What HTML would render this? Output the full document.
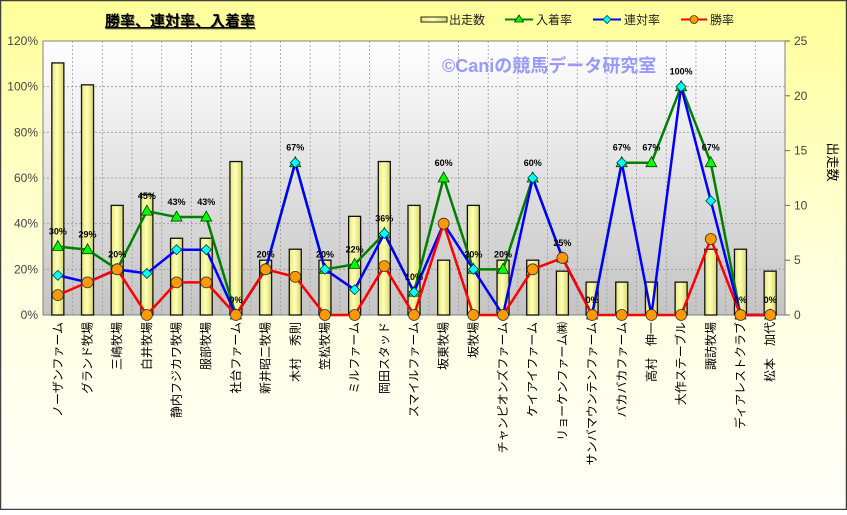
<!DOCTYPE html>
<html><head><meta charset="utf-8"><style>
html,body{margin:0;padding:0;}
body{width:847px;height:510px;overflow:hidden;font-family:"Liberation Sans","Noto Sans CJK JP",sans-serif;}
</style></head><body>
<svg id="s" width="847" height="510" xmlns="http://www.w3.org/2000/svg" font-family="Liberation Sans, Noto Sans CJK JP, sans-serif">
<defs>
<linearGradient id="bg" x1="0" y1="0" x2="0" y2="1"><stop offset="0" stop-color="#ffff99"/><stop offset="0.55" stop-color="#ffffe0"/><stop offset="1" stop-color="#fffffa"/></linearGradient>
<linearGradient id="pa" x1="0" y1="0" x2="0" y2="1"><stop offset="0" stop-color="#ffffff"/><stop offset="1" stop-color="#c4c4c4"/></linearGradient>
<linearGradient id="bar" x1="0" y1="0" x2="1" y2="0"><stop offset="0" stop-color="#e6e67a"/><stop offset="0.45" stop-color="#ffffb8"/><stop offset="1" stop-color="#d8d868"/></linearGradient>
</defs>
<rect x="0.5" y="0.5" width="846" height="509" fill="url(#bg)" stroke="#404040" stroke-width="1.5"/>
<text x="106" y="27" font-size="15" font-weight="bold" fill="#999966" text-decoration="underline">勝率、連対率、入着率</text>
<text x="105" y="26" font-size="15" font-weight="bold" fill="#000" text-decoration="underline">勝率、連対率、入着率</text>
<rect x="43" y="41" width="742" height="274" fill="url(#pa)" stroke="#808080"/>
<g id="grid"></g>
<text x="442" y="72" font-size="18" font-weight="bold" fill="#9999ff">©Caniの競馬データ研究室</text>
<g id="bars"></g>
<g id="lines"></g>
<g id="labels" font-size="9" font-weight="bold" text-anchor="middle" fill="#000"></g>
<g id="axes" font-size="12" fill="#444"></g>
<g font-size="12" fill="#222">
<rect x="421" y="17" width="26" height="5" fill="url(#bar)" stroke="#222"/>
<text x="449" y="24">出走数</text>
<line x1="505" y1="19.5" x2="533" y2="19.5" stroke="#008000" stroke-width="2"/>
<polygon points="519,15 523.5,22 514.5,22" fill="#00ff00" stroke="#004000" stroke-width="0.8"/>
<text x="536" y="24">入着率</text>
<line x1="593" y1="19.5" x2="621" y2="19.5" stroke="#0000ff" stroke-width="2"/>
<polygon points="607,15.5 611,19.5 607,23.5 603,19.5" fill="#00ffff" stroke="#004040" stroke-width="0.8"/>
<text x="624" y="24">連対率</text>
<line x1="681" y1="19.5" x2="707" y2="19.5" stroke="#ff0000" stroke-width="2"/>
<circle cx="694" cy="19.5" r="4" fill="#ff9900" stroke="#333" stroke-width="0.8"/>
<text x="710" y="24">勝率</text>
</g>
<text transform="translate(828,162) rotate(90)" font-size="13" text-anchor="middle" fill="#000">出走数</text>
</svg>
<script>
var NS="http://www.w3.org/2000/svg";
function el(p,t,a,txt){var e=document.createElementNS(NS,t);for(var k in a)e.setAttribute(k,a[k]);if(txt!=null)e.textContent=txt;document.getElementById(p).appendChild(e);return e;}
var L=43,T=41,B=315,W=742,H=274,n=25,cw=W/n;
var names=["ノーザンファーム","グランド牧場","三嶋牧場","白井牧場","静内フジカワ牧場","服部牧場","社台ファーム","新井昭二牧場","木村　秀則","笠松牧場","ミルファーム","岡田スタッド","スマイルファーム","坂東牧場","坂牧場","チャンピオンズファーム","ケイアイファーム","リョーケンファーム㈱","サンバマウンテンファーム","バカバカファーム","高村　伸一","大作ステーブル","諏訪牧場","ディアレストクラブ","松本　加代"];
var cnt=[23,21,10,11,7,7,14,5,6,5,9,14,10,5,10,5,5,4,3,3,3,3,6,6,4];
var g=[30,28.6,20,45.5,42.9,42.9,0,20,66.7,20,22.2,35.7,10,60,20,20,60,25,0,66.7,66.7,100,66.7,0,0];
var gl=["30%","29%","20%","45%","43%","43%","0%","20%","67%","20%","22%","36%","10%","60%","20%","20%","60%","25%","0%","67%","67%","100%","67%","0%","0%"];
var b=[17.4,14.3,20,18.2,28.6,28.6,0,20,66.7,20,11.1,35.7,10,40,20,0,60,25,0,66.7,0,100,50,0,0];
var r=[8.7,14.3,20,0,14.3,14.3,0,20,16.7,0,0,21.4,0,40,0,0,20,25,0,0,0,0,33.3,0,0];
function cx(i){return L+cw*(i+0.5);}
function py(v){return B-v/120*H;}
for(var k=1;k<6;k++){var y=B-k*H/6;el("grid","line",{x1:L,x2:L+W,y1:y,y2:y,stroke:"#999","stroke-dasharray":"2,2","stroke-width":0.8});}
for(var i=1;i<n;i++){var x=L+cw*i;el("grid","line",{x1:x,x2:x,y1:T,y2:B,stroke:"#999","stroke-dasharray":"2,2","stroke-width":0.8});}
for(var i=0;i<n;i++){var h=cnt[i]/25*H;el("bars","rect",{x:cx(i)-6,y:B-h,width:12,height:h,fill:"url(#bar)",stroke:"#111","stroke-width":1.3});}
function line(d,col){var pts=d.map(function(v,i){return cx(i)+","+py(v);}).join(" ");el("lines","polyline",{points:pts,fill:"none",stroke:col,"stroke-width":2.5});}
line(g,"#008000");
g.forEach(function(v,i){var x=cx(i),y=py(v);el("lines","polygon",{points:x+","+(y-6)+" "+(x+5.5)+","+(y+4)+" "+(x-5.5)+","+(y+4),fill:"#00ff00",stroke:"#004000","stroke-width":0.8});});
line(b,"#0000ff");
b.forEach(function(v,i){var x=cx(i),y=py(v);el("lines","polygon",{points:x+","+(y-5)+" "+(x+5)+","+y+" "+x+","+(y+5)+" "+(x-5)+","+y,fill:"#00ffff",stroke:"#004040","stroke-width":0.8});});
line(r,"#ff0000");
r.forEach(function(v,i){el("lines","circle",{cx:cx(i),cy:py(v),r:5.5,fill:"#ff9900",stroke:"#333","stroke-width":0.8});});
g.forEach(function(v,i){el("labels","text",{x:cx(i),y:py(v)-12},gl[i]);});
for(var k=0;k<=6;k++){var y=B-k*H/6;el("axes","text",{x:38,y:y+4,"text-anchor":"end"},(k*20)+"%");}
for(var k=0;k<=5;k++){var y=B-k*H/5;el("axes","line",{x1:L+W,x2:L+W+5,y1:y,y2:y,stroke:"#666"});el("axes","text",{x:L+W+9,y:y+4},String(k*5));}
names.forEach(function(s,i){el("axes","text",{transform:"translate("+(cx(i)+4)+",322) rotate(-90)","text-anchor":"end","font-size":12,fill:"#000"},s);});
</script>
</body></html>
